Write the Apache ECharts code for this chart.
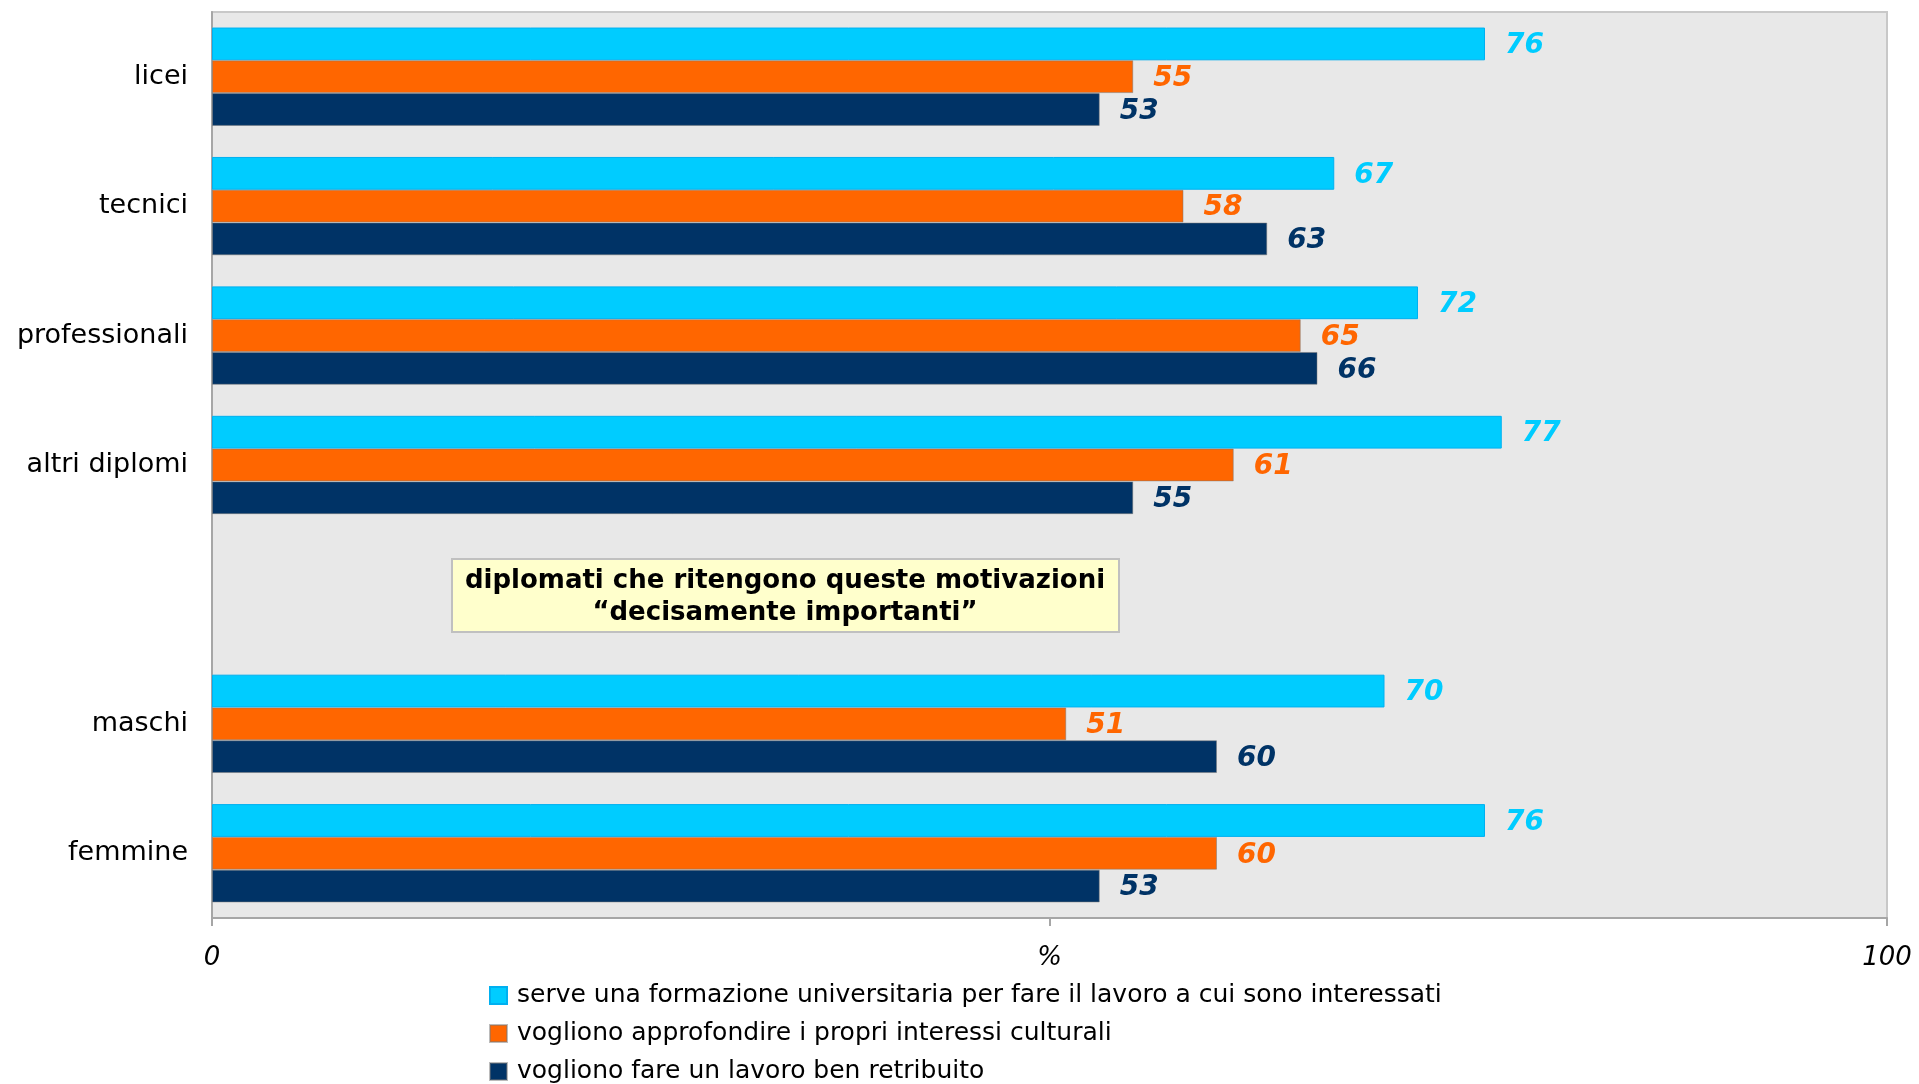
<!DOCTYPE html>
<html>
<head>
<meta charset="utf-8">
<script src="https://cdn.jsdelivr.net/npm/echarts@6/dist/echarts.min.js"></script>
<style>
  html, body { margin: 0; padding: 0; background: #fff; }
  #chart { width: 1919px; height: 1084px; }
</style>
</head>
<body>
<div id="chart"></div>
<script>
// categories (empty slot separates school type from gender)
const categories = ['licei', 'tecnici', 'professionali', 'altri diplomi', '', 'maschi', 'femmine']
const formazione = [76, 67, 72, 77, '-', 70, 76]
const interessi = [55, 58, 65, 61, '-', 51, 60]
const retribuito = [53, 63, 66, 55, '-', 60, 53]
const seriesNames = [
  'serve una formazione universitaria per fare il lavoro a cui sono interessati',
  'vogliono approfondire i propri interessi culturali',
  'vogliono fare un lavoro ben retribuito'
]
const COLORS = ['#00ccff', '#ff6600', '#003366']
const BORDERS = ['#00b0f0', 'rgba(120,120,120,0.5)', 'rgba(120,120,120,0.5)']
const FONT = "'DejaVu Sans', Verdana, sans-serif"

const chart = echarts.init(document.getElementById('chart'))

const makeSeries = (name, data, i) => ({
  name,
  type: 'bar',
  data,
  barGap: 0,
  barCategoryGap: '24%',
  itemStyle: { color: COLORS[i], borderColor: BORDERS[i], borderWidth: 1 },
  label: {
    show: true,
    position: 'right',
    distance: 20,
    offset: [0, 2],
    color: COLORS[i],
    fontFamily: FONT,
    fontSize: 28,
    fontWeight: 'bold',
    fontStyle: 'italic'
  },
  emphasis: { disabled: true }
})

chart.setOption({
  animation: false,
  color: COLORS,
  grid: {
    left: 212,
    right: 32,
    top: 12,
    bottom: 166,
    show: true,
    backgroundColor: '#e8e8e8',
    borderColor: '#c8c8c8',
    borderWidth: 2
  },
  legend: {
    orient: 'vertical',
    left: 489,
    top: 983,
    padding: 0,
    itemWidth: 17,
    itemHeight: 17,
    itemGap: 13,
    icon: 'rect',
    selectedMode: false,
    textStyle: {
      color: '#000',
      fontFamily: FONT,
      fontSize: 25,
      lineHeight: 24,
      padding: [0, 0, 0, 5]
    },
    data: seriesNames
  },
  xAxis: {
    type: 'value',
    min: 0,
    max: 100,
    interval: 50,
    axisLine: { show: true, lineStyle: { color: '#a6a6a6', width: 2 } },
    axisTick: { show: true, length: 8, lineStyle: { color: '#a6a6a6', width: 2 } },
    splitLine: { show: false },
    axisLabel: {
      margin: 27,
      color: '#000',
      fontFamily: FONT,
      fontSize: 26,
      fontStyle: 'italic',
      formatter: v => (v === 50 ? '%' : String(v))
    }
  },
  yAxis: {
    type: 'category',
    data: categories,
    inverse: true,
    axisLine: { show: true, lineStyle: { color: '#a6a6a6', width: 2 } },
    axisTick: { show: false },
    axisLabel: {
      margin: 24,
      color: '#000',
      fontFamily: FONT,
      fontSize: 27,
      padding: [4, 0, 0, 0]
    }
  },
  series: [
    makeSeries(seriesNames[0], formazione, 0),
    makeSeries(seriesNames[1], interessi, 1),
    makeSeries(seriesNames[2], retribuito, 2)
  ],
  graphic: [
    {
      type: 'rect',
      shape: { x: 452, y: 559, width: 667, height: 73 },
      style: { fill: '#ffffcc', stroke: '#c0c0c0', lineWidth: 2 }
    },
    {
      type: 'text',
      x: 785,
      y: 597,
      style: {
        text: 'diplomati che ritengono queste motivazioni\n\u201cdecisamente importanti\u201d',
        align: 'center',
        verticalAlign: 'middle',
        fill: '#000',
        font: "bold 26px 'DejaVu Sans', Verdana, sans-serif",
        lineHeight: 32
      }
    }
  ]
})
</script>
</body>
</html>
